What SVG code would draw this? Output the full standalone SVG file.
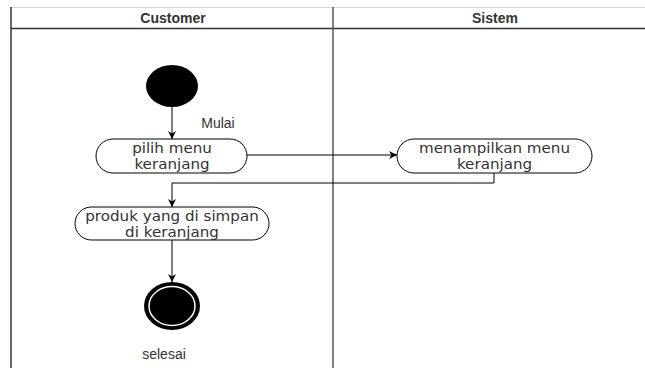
<svg xmlns="http://www.w3.org/2000/svg" width="645" height="368" viewBox="0 0 645 368">
  <style>
    .lane-title { font-family: "Liberation Sans", Arial, sans-serif; font-weight: bold; font-size: 14px; fill: #333; text-anchor: middle; }
    .label { font-family: "DejaVu Sans", Verdana, sans-serif; font-size: 13.5px; fill: #333; text-anchor: middle; }
    .note { font-family: "Liberation Sans", Arial, sans-serif; font-size: 14px; fill: #333; text-anchor: middle; }
    .action { fill: #fff; stroke: #000; stroke-width: 1; }
    .edge { fill: none; stroke: #000; stroke-width: 1; }
  </style>
  <defs>
    <marker id="arrow" viewBox="0 0 10 10" refX="10" refY="5" markerWidth="8" markerHeight="8" markerUnits="userSpaceOnUse" orient="auto">
      <path d="M0,0 L10,5 L0,10 L3,5 Z" fill="#000"/>
    </marker>
  </defs>

  <rect width="645" height="368" fill="#fff"/>

  <!-- swimlanes -->
  <g id="lanes">
    <line x1="11" y1="7.5" x2="645" y2="7.5" stroke="#d6d6d6" stroke-width="1"/>
    <line x1="11" y1="28.5" x2="645" y2="28.5" stroke="#333" stroke-width="1.5"/>
    <line x1="11" y1="7" x2="11" y2="368" stroke="#333" stroke-width="1.5"/>
    <line x1="333" y1="7" x2="333" y2="368" stroke="#555" stroke-width="1.5"/>
    <text class="lane-title" x="173" y="22.5">Customer</text>
    <text class="lane-title" x="495" y="22.5">Sistem</text>
  </g>

  <!-- connectors -->
  <g id="connectors">
    <path class="edge" d="M172,107 V139" marker-end="url(#arrow)"/>
    <path class="edge" d="M247,155 H397" marker-end="url(#arrow)"/>
    <path class="edge" d="M494,173 V183 H172 V207" marker-end="url(#arrow)"/>
    <path class="edge" d="M172,240 V282" marker-end="url(#arrow)"/>
  </g>

  <g id="start">
    <ellipse cx="172" cy="86" rx="26" ry="21" fill="#000"/>
    <text class="note" x="218" y="128">Mulai</text>
  </g>

  <!-- action labels use a slightly widened typeface -->
  <g id="pilih-menu">
    <rect class="action" x="96" y="139" width="151" height="34" rx="17" ry="17"/>
    <g transform="translate(172 0) scale(1.12 1)">
      <text class="label" x="0" y="153">pilih menu</text>
      <text class="label" x="0" y="169">keranjang</text>
    </g>
  </g>

  <g id="tampil-menu">
    <rect class="action" x="397" y="139" width="195" height="34" rx="17" ry="17"/>
    <g transform="translate(494.5 0) scale(1.12 1)">
      <text class="label" x="0" y="153">menampilkan menu</text>
      <text class="label" x="0" y="169">keranjang</text>
    </g>
  </g>

  <g id="produk">
    <rect class="action" x="75" y="207" width="194" height="33" rx="16.5" ry="16.5"/>
    <g transform="translate(172 0) scale(1.12 1)">
      <text class="label" x="0" y="221">produk yang di simpan</text>
      <text class="label" x="0" y="237">di keranjang</text>
    </g>
  </g>

  <g id="end">
    <ellipse cx="172" cy="306" rx="28" ry="24" fill="#000"/>
    <ellipse cx="172" cy="306" rx="23" ry="19.5" fill="#000" stroke="#fff" stroke-width="1.5"/>
    <text class="note" x="164" y="359">selesai</text>
  </g>
</svg>
